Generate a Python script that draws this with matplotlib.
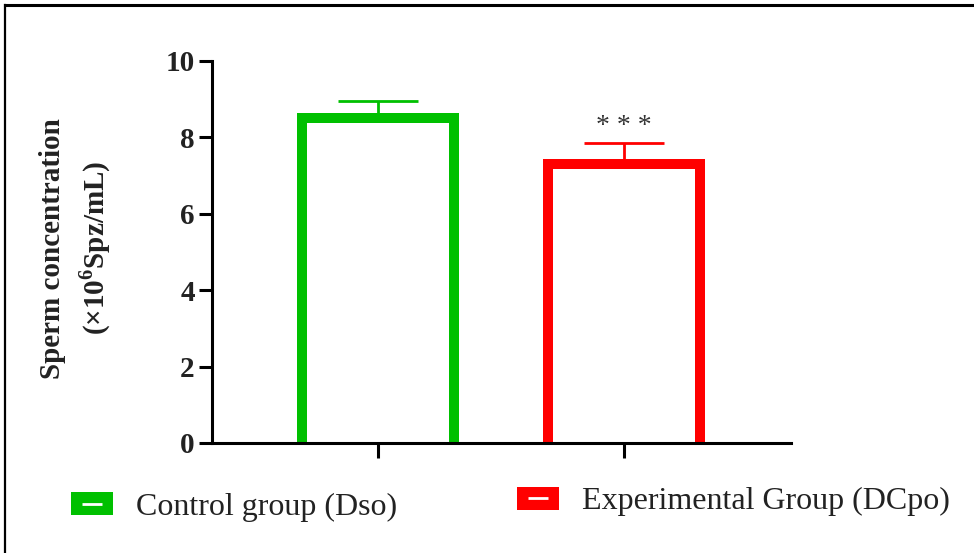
#!/usr/bin/env python
# Sperm concentration bar chart, GraphPad-like style (open bars, upward SEM only)

import matplotlib
matplotlib.use('Agg')
import matplotlib.pyplot as plt
from matplotlib.lines import Line2D
from matplotlib.patches import Patch

plt.rcParams['font.family'] = ['Liberation Serif', 'DejaVu Serif']
plt.rcParams['mathtext.fontset'] = 'custom'
plt.rcParams['mathtext.rm'] = 'Liberation Serif:bold'
plt.rcParams['mathtext.bf'] = 'Liberation Serif:bold'

# Data
groups = ['Control group (Dso)', 'Experimental Group (DCpo)']
means = [8.52, 7.30]
sems = [0.42, 0.56]
colours = ['#00C000', '#FF0000']
marks = ['', '* * *']
yticks = [0, 2, 4, 6, 8, 10]

fig = plt.figure(figsize=(9.74, 5.53), dpi=100, facecolor='white')
ax = fig.add_axes([0.2177, 0.199, 0.5943, 0.6907])

pos = list(range(len(groups)))
# bars start just under zero so the bottom edge hides below the axis line
base = -0.14
ax.bar(pos, [m - base for m in means], bottom=base, width=0.62,
       facecolor='white', edgecolor=colours, linewidth=7.2, zorder=2)
for p, m, e, c in zip(pos, means, sems, colours):
    ax.errorbar(p, m, yerr=[[0], [e]], fmt='none', ecolor=c,
                elinewidth=2.0, capsize=29, capthick=2.0, zorder=1)
for p, m, e, s in zip(pos, means, sems, marks):
    if s:
        ax.text(p, m + e + 0.43, s, ha='center', va='center',
                fontsize=20, color='#333333')

ax.set_xlim(-0.675, 1.679)
ax.set_ylim(0, 10)
ax.set_yticks(yticks)
ax.set_xticks(pos)
ax.set_xticklabels([])
for s in ['top', 'right']:
    ax.spines[s].set_visible(False)
for s in ['left', 'bottom']:
    ax.spines[s].set_linewidth(2.2)
    ax.spines[s].set_zorder(3)
ax.tick_params(axis='y', length=9.5, width=2.2, labelsize=21, pad=3)
ax.tick_params(axis='x', length=11, width=2.2)
for lab in ax.get_yticklabels():
    lab.set_fontweight('bold')
    lab.set_color('#222222')

ax.set_ylabel('Sperm concentration\n' + r'(×10$^{\mathbf{6}}$Spz/mL)',
              fontsize=21, fontweight='bold', linespacing=1.45, color='#222222')
ax.yaxis.set_label_coords(-0.171, 0.51)

# Legend, one entry at a time (second one sits a little higher)
anchors = [(0.0729, 0.083), (0.531, 0.093)]
for g, c, a in zip(groups, colours, anchors):
    box = Patch(facecolor=c, edgecolor='none')
    dash = Line2D([], [], linestyle='none', marker='_', markersize=15,
                  markeredgewidth=2.0, color='white')
    fig.legend([(box, dash)], [g], loc='center left', bbox_to_anchor=a,
               frameon=False, fontsize=23, handlelength=1.3,
               handleheight=0.72, handletextpad=0.72, borderpad=0,
               borderaxespad=0, labelcolor='#222222')

# Frame (only top and left edges show)
fig.add_artist(Line2D([0.005, 1.0], [0.991, 0.991], color='black', lw=2.2,
                      transform=fig.transFigure))
fig.add_artist(Line2D([0.005, 0.005], [0.0, 0.991], color='black', lw=1.6,
                      transform=fig.transFigure))

fig.savefig('out.png', dpi=100)
